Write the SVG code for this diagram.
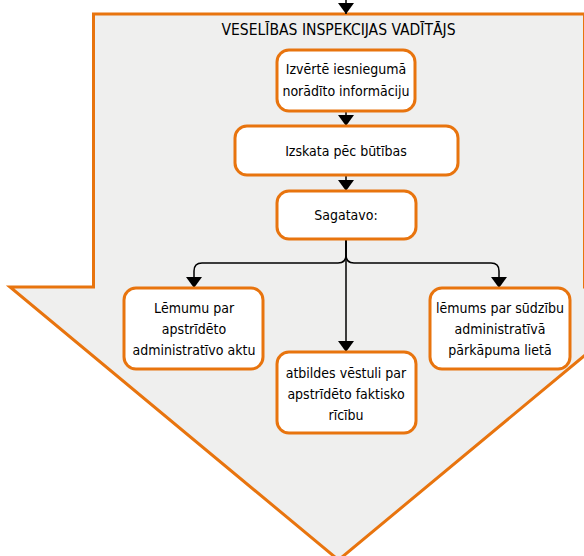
<svg xmlns="http://www.w3.org/2000/svg" width="584" height="556" viewBox="0 0 584 556">
<defs>
<style>
.bg{fill:#efefee;stroke:#e8740e;stroke-width:3}
.box{fill:#ffffff;stroke:#e8740e;stroke-width:3}
.t{font-family:"DejaVu Sans Condensed","DejaVu Sans",sans-serif;font-size:14px;fill:#000;text-anchor:middle}
.c{fill:none;stroke:#000;stroke-width:1.5}
</style>
<marker id="ah" viewBox="0 0 11 16" refX="11" refY="8" markerWidth="11" markerHeight="16" markerUnits="userSpaceOnUse" orient="auto">
<path d="M0,0 L11,8 L0,16 z" fill="#000"/>
</marker>
</defs>
<g id="container">
<path class="bg" d="M93.5,14 H584.5 V287 H667 L338.5,560 L10,287 H93.5 Z"/>
<text class="t" x="338.5" y="35" style="font-size:15px" textLength="234" lengthAdjust="spacingAndGlyphs">VESELĪBAS INSPEKCIJAS VADĪTĀJS</text>
</g>
<g id="connectors">
<path class="c" d="M346,0 V14" marker-end="url(#ah)"/>
<path class="c" d="M346,111 V126" marker-end="url(#ah)"/>
<path class="c" d="M346,175 V191" marker-end="url(#ah)"/>
<path class="c" d="M346,239 V352" marker-end="url(#ah)"/>
<path class="c" d="M346,239 V255 Q346,263 338,263 H202 Q194,263 194,271 V288" marker-end="url(#ah)"/>
<path class="c" d="M346,239 V255 Q346,263 354,263 H491 Q499,263 499,271 V288" marker-end="url(#ah)"/>
</g>
<g id="n1">
<rect class="box" x="277" y="50" width="138" height="61" rx="12"/>
<text class="t" x="346" y="74">Izvērtē iesniegumā</text>
<text class="t" x="346" y="96">norādīto informāciju</text>
</g>
<g id="n2">
<rect class="box" x="235" y="126" width="223" height="49" rx="12"/>
<text class="t" x="346" y="156">Izskata pēc būtības</text>
</g>
<g id="n3">
<rect class="box" x="277" y="191" width="139" height="48" rx="12"/>
<text class="t" x="346" y="220">Sagatavo:</text>
</g>
<g id="n4">
<rect class="box" x="124" y="288" width="139" height="81" rx="12"/>
<text class="t" x="194" y="313">Lēmumu par</text>
<text class="t" x="194" y="334">apstrīdēto</text>
<text class="t" x="194" y="355">administratīvo aktu</text>
</g>
<g id="n5">
<rect class="box" x="277" y="352" width="139" height="81" rx="12"/>
<text class="t" x="346" y="378">atbildes vēstuli par</text>
<text class="t" x="346" y="399">apstrīdēto faktisko</text>
<text class="t" x="346" y="420">rīcību</text>
</g>
<g id="n6">
<rect class="box" x="430" y="288" width="140" height="81" rx="12"/>
<text class="t" x="500" y="313">lēmums par sūdzību</text>
<text class="t" x="500" y="334">administratīvā</text>
<text class="t" x="500" y="355">pārkāpuma lietā</text>
</g>
</svg>
